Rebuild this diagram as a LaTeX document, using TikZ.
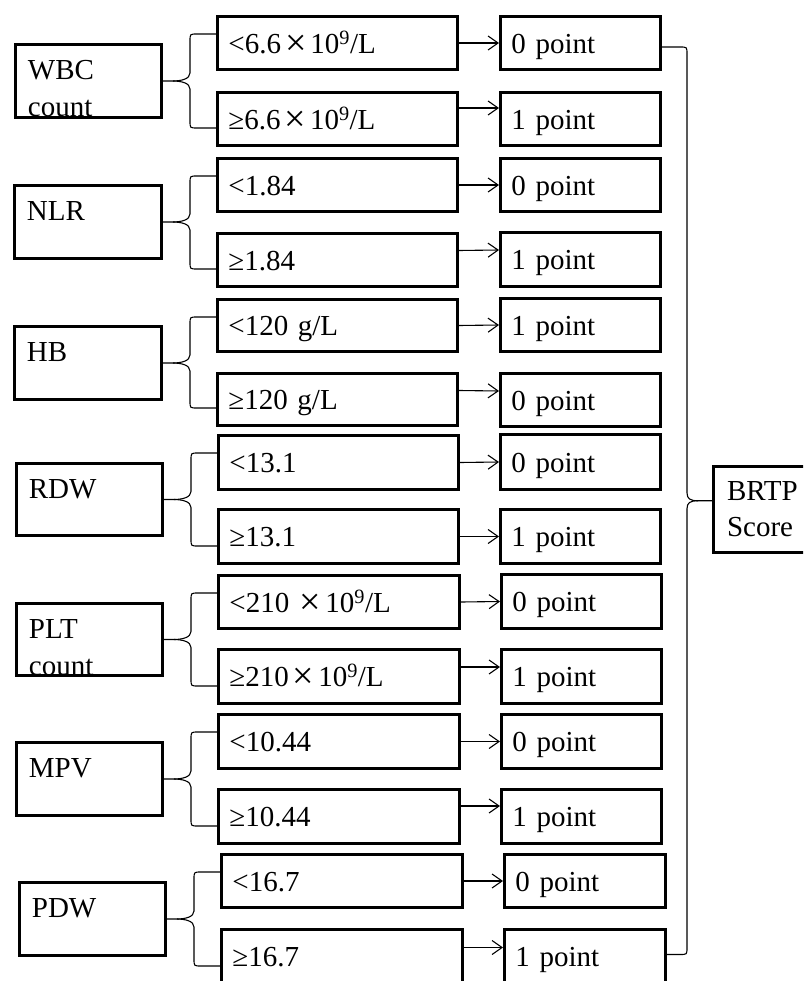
\documentclass[tikz,border=0pt]{standalone}
\usepackage{fontspec}
\setmainfont{Liberation Serif}
\usetikzlibrary{arrows.meta,calc}
\tikzset{
  txt/.style={font=\fontsize{29pt}{36.5pt}\selectfont},
  box/.style={txt, draw, line width=2.8pt, anchor=north west, inner xsep=10pt, inner ysep=0pt,
    align=left, text height=22pt, text depth=1.5pt},
  lbox/.style={txt, draw, line width=2.8pt, anchor=north west, inner sep=0pt},
  conn/.style={line width=1.1pt},
  arr/.style={conn, -{Straight Barb[length=10pt,width=14pt]}},
}
% box with one line of text: name x1 y1 x2 y2 text
\newcommand\bx[6]{%
  \pgfmathsetmacro\bw{#4-#2-2.8}\pgfmathsetmacro\bh{#5-#3-2.8}\pgfmathsetmacro\tw{#4-#2-2.8-22}%
  \node[box, minimum width=\bw pt, minimum height=\bh pt, text width=\tw pt] (#1) at (#2,#3) {#6};}
% box with two lines at its top: name x1 y1 x2 y2 indent firstbaseline line1 line2
\newcommand\tb[9]{%
  \pgfmathsetmacro\bw{#4-#2-2.8}\pgfmathsetmacro\bh{#5-#3-2.8}%
  \node[lbox] (#1) at (#2,#3) {\parbox[c][\bh pt][t]{\bw pt}{\hspace*{#6pt}\rule{0pt}{#7pt}#8\\\hspace*{#6pt}#9}};}
% curly brace from a left box to its two condition boxes
\newcommand\lbrc[3]{%
  \coordinate (#1br-tip) at ([xshift=10pt]#1.east);
  \coordinate (#1br-bar) at ([xshift=27pt]#1.east);
  \coordinate (#1br-up) at ([yshift=-19pt]#2.north west);
  \coordinate (#1br-lo) at ([yshift=19pt]#3.south west);
  \coordinate (#1br-c1) at (#1br-bar |- #1br-up);
  \coordinate (#1br-c2) at (#1br-bar |- #1br-lo);
  \draw[conn] (#1.east) -- (#1br-tip)
    .. controls ([xshift=8pt]#1br-tip) and ([yshift=2pt]#1br-bar) .. ([yshift=8pt]#1br-bar)
    -- ([yshift=-7pt]#1br-c1) .. controls (#1br-c1) .. ([xshift=7pt]#1br-c1) -- (#1br-up);
  \draw[conn] (#1br-tip)
    .. controls ([xshift=8pt]#1br-tip) and ([yshift=-2pt]#1br-bar) .. ([yshift=-8pt]#1br-bar)
    -- ([yshift=7pt]#1br-c2) .. controls (#1br-c2) .. ([xshift=7pt]#1br-c2) -- (#1br-lo);}
\newcommand\bigx{\raisebox{-2pt}{\fontsize{38pt}{38pt}\selectfont ×}}
\newcommand\X{\hspace{4pt}\bigx\hspace{4pt}}
\newcommand\nine{10\textsuperscript{9}/L}
\begin{document}
\begin{tikzpicture}[x=1pt,y=-1pt]
\useasboundingbox (0,0) rectangle (803,981);
\clip (0,0) rectangle (803,981);
% left boxes
\tb{wbc}{14}{43}{163}{119}{12.5}{35.5}{WBC}{count}
\tb{nlr}{13}{184}{163}{260}{12.5}{35.5}{NLR}{}
\tb{hb}{13}{325}{163}{401}{12.5}{35.5}{HB}{}
\tb{rdw}{15}{462}{164}{537}{12.5}{35.5}{RDW}{}
\tb{plt}{15}{602}{164}{677}{12.5}{35.5}{PLT}{count}
\tb{mpv}{15}{741}{164}{817}{12.5}{35.5}{MPV}{}
\tb{pdw}{18}{881}{167}{957}{12.5}{35.5}{PDW}{}
% condition boxes
\bx{wbc-a}{216}{15}{459}{71}{<6.6\X\nine}
\bx{wbc-b}{216}{91}{459}{147}{≥6.6\X\nine}
\bx{nlr-a}{216}{157}{459}{213}{<1.84}
\bx{nlr-b}{216}{232}{459}{288}{≥1.84}
\bx{hb-a}{216}{298}{459}{353}{<120 g/L}
\bx{hb-b}{216}{372}{459}{427}{≥120 g/L}
\bx{rdw-a}{217}{434}{460}{491}{<13.1}
\bx{rdw-b}{217}{508}{460}{565}{≥13.1}
\bx{plt-a}{217}{574}{461}{630}{<210 \hspace{1pt}\bigx\hspace{4pt}\nine}
\bx{plt-b}{217}{648}{461}{705}{≥210\X\nine}
\bx{mpv-a}{217}{713}{461}{770}{<10.44}
\bx{mpv-b}{217}{788}{461}{845}{≥10.44}
\bx{pdw-a}{220}{853}{464}{909}{<16.7}
\bx{pdw-b}{220}{928}{464}{985}{≥16.7}
% point boxes
\bx{wbc-p1}{499}{15}{662}{71}{0 point}
\bx{wbc-p2}{499}{91}{662}{147}{1 point}
\bx{nlr-p1}{499}{157}{662}{213}{0 point}
\bx{nlr-p2}{499}{231}{662}{288}{1 point}
\bx{hb-p1}{499}{297}{662}{353}{1 point}
\bx{hb-p2}{499}{372}{662}{428}{0 point}
\bx{rdw-p1}{499}{433}{662}{491}{0 point}
\bx{rdw-p2}{499}{508}{662}{565}{1 point}
\bx{plt-p1}{500}{573}{663}{630}{0 point}
\bx{plt-p2}{500}{648}{663}{705}{1 point}
\bx{mpv-p1}{500}{713}{663}{770}{0 point}
\bx{mpv-p2}{500}{788}{663}{845}{1 point}
\bx{pdw-p1}{503}{853}{667}{909}{0 point}
\bx{pdw-p2}{503}{928}{667}{985}{1 point}
% result box
\tb{brtp}{712}{465}{830}{554}{13.6}{33.6}{BRTP}{Score}
% braces on the left
\lbrc{wbc}{wbc-a}{wbc-b}
\lbrc{nlr}{nlr-a}{nlr-b}
\lbrc{hb}{hb-a}{hb-b}
\lbrc{rdw}{rdw-a}{rdw-b}
\lbrc{plt}{plt-a}{plt-b}
\lbrc{mpv}{mpv-a}{mpv-b}
\lbrc{pdw}{pdw-a}{pdw-b}
% arrows
\draw[arr] (wbc-a.east) -- (wbc-p1.west);
\draw[arr] ([yshift=11pt]wbc-b.east) -- ([yshift=11pt]wbc-p2.west);
\draw[arr] (nlr-a.east) -- (nlr-p1.west);
\draw[arr] ([yshift=9.5pt]nlr-b.east) -- ([yshift=9.5pt]nlr-p2.west);
\draw[arr] (hb-a.east) -- (hb-p1.west);
\draw[arr] ([yshift=9pt]hb-b.east) -- ([yshift=9pt]hb-p2.west);
\draw[arr] (rdw-a.east) -- (rdw-p1.west);
\draw[arr] (rdw-b.east) -- (rdw-p2.west);
\draw[arr] (plt-a.east) -- (plt-p1.west);
\draw[arr] ([yshift=9.5pt]plt-b.east) -- ([yshift=9.5pt]plt-p2.west);
\draw[arr] (mpv-a.east) -- (mpv-p1.west);
\draw[arr] ([yshift=10.5pt]mpv-b.east) -- ([yshift=10.5pt]mpv-p2.west);
\draw[arr] (pdw-a.east) -- (pdw-p1.west);
\draw[arr] ([yshift=9pt]pdw-b.east) -- ([yshift=9pt]pdw-p2.west);
% brace on the right
\coordinate (r-u) at ([yshift=-4pt]wbc-p1.east);
\coordinate (r-l) at ([yshift=2pt]pdw-p2.east);
\coordinate (r-m) at ($(r-u)!0.5!(r-l)$);
\coordinate (r-x) at ([xshift=25pt]wbc-p1.east);
\coordinate (r-bar) at (r-x |- r-m);
\coordinate (r-c1) at (r-x |- r-u);
\coordinate (r-c2) at (r-x |- r-l);
\coordinate (r-tip) at ([xshift=11pt]r-bar);
\draw[conn] (r-u) -- ([xshift=-7pt]r-c1) .. controls (r-c1) .. ([yshift=-7pt]r-c1)
  -- ([yshift=8pt]r-bar) .. controls ([yshift=2pt]r-bar) and ([xshift=-8pt]r-tip) .. (r-tip)
  -- (brtp.west |- r-m);
\draw[conn] (r-l) -- ([xshift=-7pt]r-c2) .. controls (r-c2) .. ([yshift=7pt]r-c2)
  -- ([yshift=-8pt]r-bar) .. controls ([yshift=-2pt]r-bar) and ([xshift=-8pt]r-tip) .. (r-tip);
\end{tikzpicture}
\end{document}
